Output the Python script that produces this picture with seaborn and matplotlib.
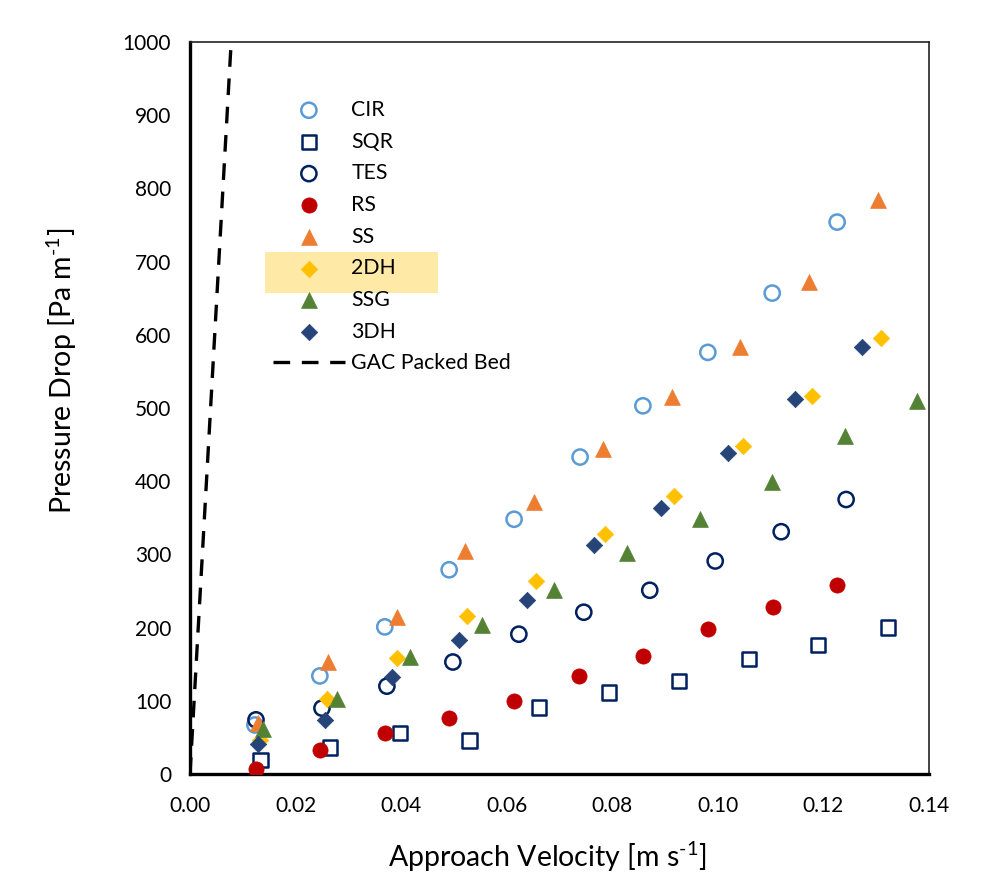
import numpy as np
import pandas as pd
import matplotlib
matplotlib.use("Agg")
import matplotlib.pyplot as plt
import seaborn as sns
from matplotlib.ticker import MultipleLocator, FormatStrFormatter
from matplotlib.patches import Rectangle

# ---------------- data ----------------
cir_x = [0.0123, 0.0246, 0.0369, 0.0491, 0.0614, 0.0739, 0.0858, 0.0981, 0.1103, 0.1226]
cir_y = [67, 134, 201, 279, 348, 433, 503, 576, 657, 754]

sqr_x = [0.0134, 0.0265, 0.0398, 0.0530, 0.0661, 0.0794, 0.0926, 0.1059, 0.1190, 0.1322]
sqr_y = [19, 36, 56, 46, 91, 111, 127, 157, 176, 200]

tes_x = [0.0125, 0.0250, 0.0373, 0.0498, 0.0623, 0.0746, 0.0871, 0.0995, 0.1120, 0.1243]
tes_y = [74, 90, 120, 153, 191, 221, 251, 291, 331, 375]

rs_x = [0.0125, 0.0246, 0.0369, 0.0491, 0.0614, 0.0737, 0.0858, 0.0981, 0.1104, 0.1226]
rs_y = [7, 33, 56, 77, 100, 134, 161, 198, 228, 258]

ss_x = [0.0129, 0.0261, 0.0392, 0.0521, 0.0652, 0.0782, 0.0913, 0.1042, 0.1173, 0.1303]
ss_y = [70, 153, 214, 305, 372, 444, 515, 583, 672, 784]

dh2_x = [0.0133, 0.0259, 0.0392, 0.0524, 0.0655, 0.0786, 0.0917, 0.1047, 0.1178, 0.1309]
dh2_y = [47, 103, 158, 216, 263, 328, 380, 448, 516, 596]

ssg_x = [0.0139, 0.0278, 0.0417, 0.0553, 0.0690, 0.0828, 0.0966, 0.1103, 0.1241, 0.1378]
ssg_y = [61, 102, 160, 204, 251, 302, 348, 399, 462, 510]

dh3_x = [0.0129, 0.0256, 0.0382, 0.0510, 0.0638, 0.0765, 0.0892, 0.1019, 0.1146, 0.1273]
dh3_y = [41, 74, 133, 183, 238, 313, 363, 438, 512, 583]

gac_x = [0.0, 0.0078]
gac_y = [0, 1000]

x_ticks = [0.00, 0.02, 0.04, 0.06, 0.08, 0.10, 0.12, 0.14]
y_ticks = [0, 100, 200, 300, 400, 500, 600, 700, 800, 900, 1000]

# ---------------- style ----------------
sns.set_theme(style="white")
plt.rcParams['font.family'] = ['Lato', 'DejaVu Sans']
plt.rcParams['mathtext.fontset'] = 'custom'
plt.rcParams['mathtext.rm'] = 'Lato'
plt.rcParams['mathtext.it'] = 'Lato:italic'
plt.rcParams['mathtext.bf'] = 'Lato:bold'

fig = plt.figure(figsize=(9.83, 8.76), dpi=100)
ax = fig.add_axes([190/983, 1-774/876, (929-190)/983, (774-42)/876])

series = [
    ("CIR", cir_x, cir_y, 'o', '#5B9BD5', True),
    ("SQR", sqr_x, sqr_y, 's', '#002060', True),
    ("TES", tes_x, tes_y, 'o', '#002060', True),
    ("RS", rs_x, rs_y, 'o', '#C00000', False),
    ("SS", ss_x, ss_y, '^', '#ED7D31', False),
    ("2DH", dh2_x, dh2_y, 'D', '#FFC000', False),
    ("SSG", ssg_x, ssg_y, '^', '#548235', False),
    ("3DH", dh3_x, dh3_y, 'D', '#264478', False),
]

sizes = {'o': 120, 's': 110, '^': 130, 'D': 70}
for name, xs, ys, m, col, hollow in series:
    df = pd.DataFrame({"x": xs, "y": ys})
    if hollow:
        sns.scatterplot(data=df, x="x", y="y", marker=m, s=sizes[m],
                        facecolor='none', edgecolor=col, linewidth=1.8,
                        ax=ax, label=name, zorder=3)
    else:
        sns.scatterplot(data=df, x="x", y="y", marker=m, s=sizes[m],
                        color=col, edgecolor=col, linewidth=0.5,
                        ax=ax, label=name, zorder=3)

gdf = pd.DataFrame({"x": gac_x, "y": gac_y})
sns.lineplot(data=gdf, x="x", y="y", color='black', linewidth=2.4,
             linestyle=(0, (5, 3.5)), ax=ax, label="GAC Packed Bed", zorder=2)

ax.set_xlim(0, 0.14)
ax.set_ylim(0, 1000)
ax.set_xticks(x_ticks)
ax.set_yticks(y_ticks)
ax.xaxis.set_major_formatter(FormatStrFormatter('%.2f'))
ax.xaxis.set_minor_locator(MultipleLocator(0.004))
ax.yaxis.set_minor_locator(MultipleLocator(20))

ax.tick_params(axis='both', which='major', direction='inout', length=9, width=2.2,
               labelsize=15, color='black', labelcolor='black')
ax.tick_params(axis='x', which='major', pad=11)
ax.tick_params(axis='y', which='major', pad=9)
ax.tick_params(axis='both', which='minor', direction='in', length=5, width=2.0,
               color='black')
ax.tick_params(top=False, right=False, which='both')

for s in ['left', 'bottom']:
    ax.spines[s].set_linewidth(2.4)
    ax.spines[s].set_color('black')
for s in ['top', 'right']:
    ax.spines[s].set_linewidth(1.2)
    ax.spines[s].set_color('#222222')
    ax.spines[s].set_visible(True)

ax.set_xlabel(r'Approach Velocity [m s$^{\text{-1}}$]', fontsize=20.5, color='black')
ax.set_ylabel(r'Pressure Drop [Pa m$^{\text{-1}}$]', fontsize=20.5, color='black')
ax.xaxis.set_label_coords(0.483, -0.090)
ax.yaxis.set_label_coords(-0.150, 0.55)

# highlight behind 2DH legend entry
hl = Rectangle((265/983, 1-293/876), 173/983, 41/876,
               transform=fig.transFigure, facecolor='#FFE9A6',
               edgecolor='none', zorder=1, clip_on=False)
ax.add_patch(hl)

leg = ax.legend(loc='upper left', bbox_to_anchor=(0.112, 0.921), frameon=False,
                fontsize=15.3, labelspacing=0.55, handlelength=3.4,
                handletextpad=0.3, borderpad=0, borderaxespad=0)
leg.set_zorder(6)
for t in leg.get_texts():
    t.set_color('black')

ax.set_facecolor('none')
fig.savefig("out.png", dpi=100)
